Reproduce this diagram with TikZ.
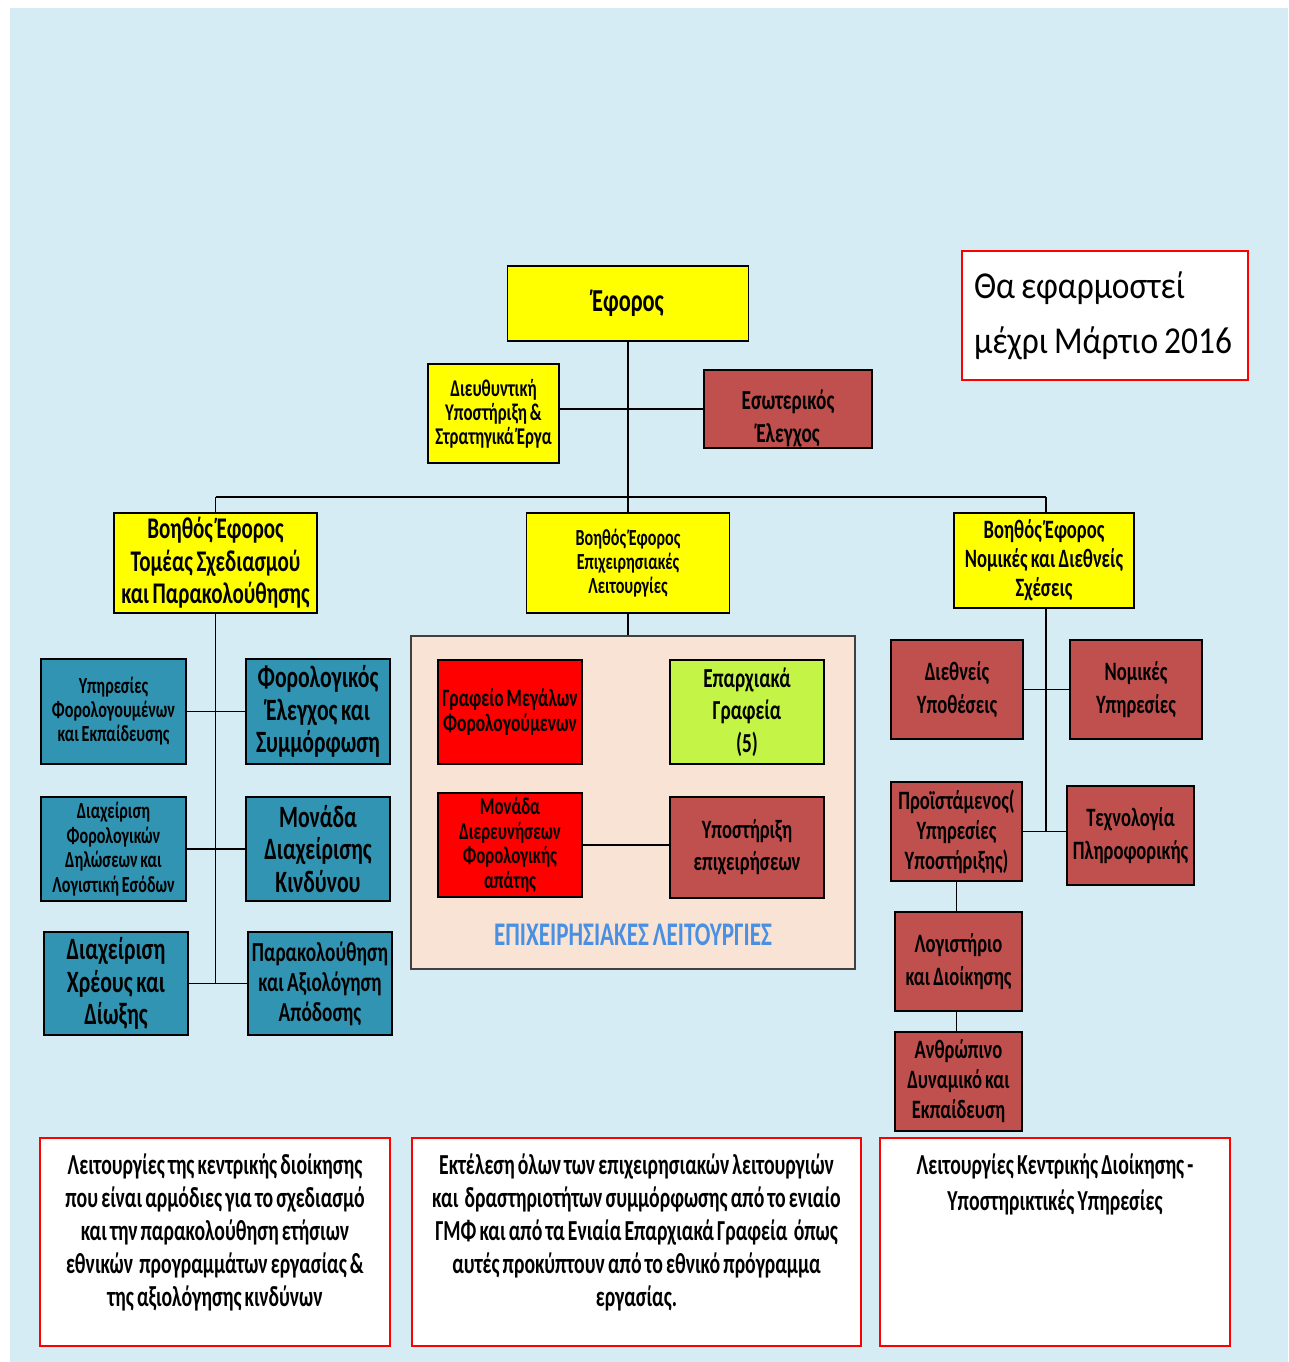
\documentclass[tikz,border=0pt]{standalone}
\usepackage{fontspec}
\setmainfont{Carlito}
\newfontfamily\boxfont[FakeStretch=0.7,WordSpace=0.75]{Carlito}
\newfontfamily\descfont[FakeStretch=0.68,WordSpace=0.7]{Carlito}
\newfontfamily\notefont[FakeStretch=0.88]{Carlito}
\usetikzlibrary{positioning}
\definecolor{bgblue}{RGB}{214,236,244}
\definecolor{yelcol}{RGB}{255,255,0}
\definecolor{tealcol}{RGB}{48,148,178}
\definecolor{brickcol}{RGB}{192,80,77}
\definecolor{redcol}{RGB}{255,0,0}
\definecolor{limecol}{RGB}{196,245,70}
\definecolor{panelcol}{RGB}{249,227,212}
\definecolor{opsblue}{RGB}{74,144,226}
\tikzset{
  orgbox/.style={draw=black,line width=1.6pt,align=center,inner sep=1pt},
  wh/.style 2 args={minimum width=#1pt,minimum height=#2pt},
  txt/.style 2 args={font=\boxfont\bfseries\fontsize{#1}{#2}\selectfont},
  yelbox/.style={orgbox,fill=yelcol},
  tealbox/.style={orgbox,fill=tealcol},
  brickbox/.style={orgbox,fill=brickcol},
  redbox/.style={orgbox,fill=redcol},
  limebox/.style={orgbox,fill=limecol},
  panelbox/.style={draw=black!75,line width=1.6pt,fill=panelcol},
  notebox/.style={draw=redcol,line width=2.5pt,fill=white,inner sep=0pt},
  desc/.style={notebox,wh={#1}{208},inner ysep=16pt,
    font=\descfont\bfseries\fontsize{29}{33}\selectfont},
  link/.style={line width=1.8pt,black}
}
\newcommand{\desctext}[2]{\parbox[t][176pt][t]{#1pt}{\centering #2}}

\begin{document}
\begin{tikzpicture}[x=1pt,y=-1pt]
  \useasboundingbox (0,0) rectangle (1288,1362);
  \fill[bgblue] (10,8) rectangle (1288,1362);

  % top level
  \node[yelbox,wh={241}{75},txt={32}{32}] (efor) at (628,303.5) {Έφορος};
  \node[yelbox,wh={131}{99},txt={24}{24}] (diefth) at (493.5,413.5)
    {Διευθυντική\\Υποστήριξη \&\\Στρατηγικά Έργα};
  \node[brickbox,wh={168}{74},txt={27.5}{33}] (eswt) at (788,409)
    {\rule{0pt}{38pt}Εσωτερικός\\Έλεγχος};
  \node[notebox,wh={286}{129},align=left,text width=262pt,
    font=\notefont\fontsize{38}{55}\selectfont] (note) at (1105,315.5)
    {\spaceskip=6pt\relax Θα εφαρμοστεί\\μέχρι Μάρτιο 2016};

  % assistant directors
  \node[yelbox,wh={203}{100},txt={30}{32.5}] (bv1) at (215.5,563)
    {Βοηθός Έφορος\\Τομέας Σχεδιασμού\\και Παρακολούθησης};
  \node[yelbox,wh={203}{100},txt={23}{24}] (bv2) at (628,563)
    {Βοηθός Έφορος\\Επιχειρησιακές\\Λειτουργίες};
  \node[yelbox,wh={180}{95},txt={26.5}{29}] (bv3) at (1044,560.5)
    {Βοηθός Έφορος\\Νομικές και Διεθνείς\\Σχέσεις};
  \coordinate (busL) at (215.5,497);
  \coordinate (busR) at (1046,497);

  \draw[link] (efor.south) -- (bv2.north);
  \draw[link] (diefth.east |- eswt.west) -- (eswt.west);
  \draw[link] (busL) -- (busR);
  \draw[link] (busL) -- (bv1.north);
  \draw[link] (busR) -- (busR |- bv3.north);

  % planning and monitoring
  \node[tealbox,wh={145}{105},txt={23}{24}] (l1) at (113.5,711.5)
    {Υπηρεσίες\\Φορολογουμένων\\και Εκπαίδευσης};
  \node[tealbox,wh={144}{105},txt={31}{32.5}] (r1) at (318,711.5)
    {Φορολογικός\\Έλεγχος και\\Συμμόρφωση};
  \node[tealbox,wh={145}{104},txt={23}{24.5}] (l2) at (113.5,849)
    {Διαχείριση\\Φορολογικών\\Δηλώσεων και\\Λογιστική Εσόδων};
  \node[tealbox,wh={144}{104},txt={31}{32.5}] (r2) at (318,849)
    {Μονάδα\\Διαχείρισης\\Κινδύνου};
  \node[tealbox,wh={144}{103},txt={31}{32.5}] (l3) at (116,983.5)
    {Διαχείριση\\Χρέους και\\Δίωξης};
  \node[tealbox,wh={144}{103},txt={27.5}{30}] (r3) at (320,983.5)
    {Παρακολούθηση\\και Αξιολόγηση\\Απόδοσης};

  \draw[link] (bv1.south) -- (bv1.south |- l3.east);
  \draw[link] (l1.east) -- (r1.west);
  \draw[link] (l2.east) -- (r2.west);
  \draw[link] (l3.east) -- (r3.west);

  % operations
  \node[panelbox,wh={444}{333}] (panel) at (633,802.5) {};
  \node[redbox,wh={144}{104},txt={25}{25}] (gmf) at (510,712)
    {Γραφείο Μεγάλων\\Φορολογούμενων};
  \node[limebox,wh={154}{104},txt={27.5}{32.5}] (epar) at (747,712)
    {Επαρχιακά\\Γραφεία\\(5)};
  \node[redbox,wh={144}{104},txt={24}{24.5}] (mdfa) at (510,845)
    {Μονάδα\\Διερευνήσεων\\Φορολογικής\\απάτης};
  \node[brickbox,wh={154}{101},txt={26.5}{32}] (ypep) at (747,847.5)
    {Υποστήριξη\\επιχειρήσεων};
  \node[txt={33}{34},text=opsblue] (opslbl) at (633,935)
    {ΕΠΙΧΕΙΡΗΣΙΑΚΕΣ ΛΕΙΤΟΥΡΓΙΕΣ};

  \draw[link] (bv2.south) -- (bv2.south |- panel.north);
  \draw[link] (mdfa.east) -- (mdfa.east -| ypep.west);

  % legal and international
  \node[brickbox,wh={132}{99},txt={26.5}{33}] (dy) at (957,689.5)
    {Διεθνείς\\Υποθέσεις};
  \node[brickbox,wh={132}{99},txt={26.5}{33}] (ny) at (1136,689.5)
    {Νομικές\\Υπηρεσίες};
  \node[brickbox,wh={131}{99},txt={26.5}{30}] (proist) at (956.5,831.5)
    {Προϊστάμενος(\\Υπηρεσίες\\Υποστήριξης)};
  \node[brickbox,wh={127}{99},txt={26.5}{33}] (tech) at (1130.5,835.5)
    {Τεχνολογία\\Πληροφορικής};
  \node[brickbox,wh={127}{99},txt={26.5}{33}] (logist) at (958.5,961.5)
    {Λογιστήριο\\και Διοίκησης};
  \node[brickbox,wh={127}{99},txt={26.5}{30}] (anth) at (958.5,1081.5)
    {Ανθρώπινο\\Δυναμικό και\\Εκπαίδευση};
  \coordinate (rj) at (busR |- proist.east);

  \draw[link] (busR |- bv3.south) -- (rj);
  \draw[link] (dy.east) -- (ny.west);
  \draw[link] (proist.east) -- (proist.east -| tech.west);
  \draw[link] (proist.south) -- (proist.south |- logist.north);
  \draw[link] (proist.south |- logist.south) -- (proist.south |- anth.north);

  % descriptions
  \node[desc=350] (d1) at (215,1242)
    {\desctext{340}{Λειτουργίες της κεντρικής διοίκησης\\
     που είναι αρμόδιες για το σχεδιασμό\\
     και την παρακολούθηση ετήσιων\\
     εθνικών\ \ προγραμμάτων εργασίας \&\\
     της αξιολόγησης κινδύνων}};
  \node[desc=449] (d2) at (636.5,1242)
    {\desctext{440}{Εκτέλεση όλων των επιχειρησιακών λειτουργιών\\
     και\ \ δραστηριοτήτων συμμόρφωσης από το ενιαίο\\
     ΓΜΦ και από τα Ενιαία Επαρχιακά Γραφεία\ \ όπως\\
     αυτές προκύπτουν από το εθνικό πρόγραμμα\\
     εργασίας.}};
  \node[desc=350] (d3) at (1055,1242)
    {\desctext{340}{\baselineskip=36pt Λειτουργίες Κεντρικής Διοίκησης -\\
     Υποστηρικτικές Υπηρεσίες}};
\end{tikzpicture}
\end{document}
